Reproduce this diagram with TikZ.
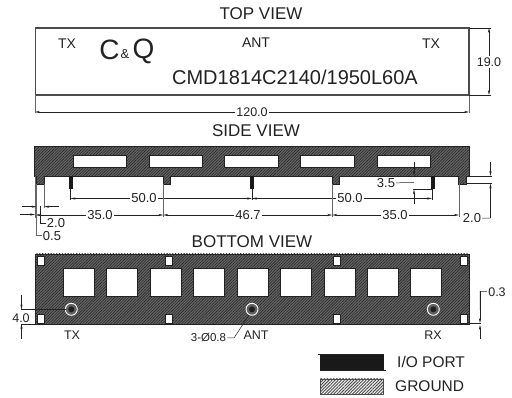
\documentclass[tikz,border=0pt]{standalone}
\usepackage{fontspec}
\setmainfont{Liberation Sans}
\usetikzlibrary{arrows.meta,patterns.meta}
\definecolor{ink}{HTML}{222222}
\tikzset{
  body/.style={draw=ink,line width=.8pt,preaction={fill=black!60},preaction={pattern={Lines[angle=45,distance=2pt,line width=.6pt]},pattern color=black!85}},
  legendhatch/.style={draw=black!70,line width=.5pt,preaction={fill=black!5},preaction={pattern={Lines[angle=45,distance=2.2pt,line width=.9pt]},pattern color=black!70}},
  hole/.style={draw=ink,line width=.8pt,fill=white},
  thin line/.style={draw=ink,line width=.5pt},
  ext/.style={draw=black!60,line width=.6pt},
  dimarrow/.style={draw=ink,line width=.5pt,-{Stealth[length=5pt,width=2.2pt]}},
  label/.style={inner sep=1pt,text=ink,font=\fontsize{12.5}{13}\selectfont},
  sidelabel/.style={inner sep=1pt,text=ink,font=\fontsize{13}{14}\selectfont},
  toplabel/.style={inner sep=1pt,text=ink,font=\fontsize{14}{15}\selectfont},
  ttl/.style={inner sep=0pt,text=ink,font=\fontsize{17}{18}\selectfont},
  pin/.style={draw=none,fill=black!90},
}
\begin{document}
\begin{tikzpicture}[x=1pt,y=-1pt]
\useasboundingbox (0,0) rectangle (512,398);
\fill[white] (0,0) rectangle (512,398);

% ---- TOP VIEW
\node[ttl] (ttop) at (261,14) {TOP VIEW};
\draw[draw=black!70,line width=1.4pt] (35.5,28) rectangle (469,95);
\node[toplabel] (tx1) at (67,44) {TX};
\node[toplabel] (ant1) at (256,43) {ANT};
\node[toplabel] (tx2) at (431,44) {TX};
\node[inner sep=0pt,text=ink,font=\fontsize{28}{29}\selectfont] (cc) at (109.5,50) {C};
\node[inner sep=0pt,text=ink,font=\fontsize{13}{14}\selectfont] (amp) at (125,54.5) {\&};
\node[inner sep=0pt,text=ink,font=\fontsize{28}{29}\selectfont] (qq) at (143.5,51) {Q};
\node[inner sep=0pt,text=ink,font=\fontsize{20}{21}\selectfont] (part) at (295,77.5) {CMD1814C2140/1950L60A};
\draw[ext] (35,95) -- (35,113);
\draw[ext] (469,95) -- (469,113);
\node[label] (d120) at (252,112) {120.0};
\draw[dimarrow] (d120) -- (35,112);
\draw[dimarrow] (d120) -- (469,112);
\draw[thin line] (469,28) -- (491,28);
\draw[thin line] (469,95) -- (491,95);
\node[label] (d19) at (489,62) {19.0};
\draw[dimarrow] (d19) -- (489,28);
\draw[dimarrow] (d19) -- (489,95);

% ---- SIDE VIEW
\node[ttl] (tside) at (256,130.5) {SIDE VIEW};
\draw[body] (34,146.5) -- (469,146.5) -- (469,176) -- (466.7,176) -- (466.7,184) -- (458.7,184) -- (458.7,176)
  -- (339.7,176) -- (339.7,184) -- (332.3,184) -- (332.3,176) -- (170.7,176) -- (170.7,184) -- (163.3,184) -- (163.3,176)
  -- (44.3,176) -- (44.3,184) -- (36.6,184) -- (36.6,176) -- (34,176) -- cycle;
\foreach \a/\b in {73/126,149/202,224/278,300/354,377/430}
  \draw[hole] (\a,155) rectangle (\b,167);
\fill[pin] (68.5,176) rectangle (72.7,189.5);
\fill[pin] (249.7,176) rectangle (254,189.5);
\fill[pin] (430.7,176) rectangle (434.5,189.5);
% 50.0 dims
\draw[thin line] (70.5,189) -- (70.5,200);
\draw[thin line] (252,189) -- (252,200);
\draw[thin line] (432,189) -- (432,200);
\node[sidelabel] (d50a) at (144,198.5) {50.0};
\draw[dimarrow] (d50a) -- (70.5,198.5);
\draw[dimarrow] (d50a) -- (252,198.5);
\node[sidelabel] (d50b) at (350,198.5) {50.0};
\draw[dimarrow] (d50b) -- (252,198.5);
\draw[dimarrow] (d50b) -- (432,198.5);
% 35 / 46.7 / 35 dims
\draw[ext] (163.3,184) -- (163.3,217);
\draw[ext] (332.3,184) -- (332.3,217);
\draw[ext,line width=.9pt] (459,184) -- (459,217);
\node[sidelabel] (d35a) at (100,215) {35.0};
\draw[dimarrow] (d35a) -- (163.3,215);
\draw[dimarrow] (d35a) -- (35.5,215);
\node[sidelabel] (d467) at (248,215) {46.7};
\draw[dimarrow] (d467) -- (163.3,215);
\draw[dimarrow] (d467) -- (332.3,215);
\node[sidelabel] (d35b) at (395,215) {35.0};
\draw[dimarrow] (d35b) -- (332.3,215);
\draw[dimarrow] (d35b) -- (459,215);
% left detail
\draw[ext] (35,176) -- (35,218);
\draw[ext] (36.6,184) -- (36.6,235) -- (42,235);
\draw[ext] (44.3,184) -- (44.3,208);
\draw[thin line] (40,206) -- (40,223) -- (46,223);
\draw[dimarrow] (22,206.7) -- (36.6,206.7);
\draw[dimarrow] (59,206.7) -- (44.3,206.7);
\draw[dimarrow] (20,214.5) -- (35,214.5);
\node[sidelabel,inner sep=0pt] (d20a) at (56,223.5) {2.0};
\node[sidelabel,inner sep=0pt] (d05) at (52,236) {0.5};
% 3.5
\node[sidelabel] (d35c) at (386,183) {3.5};
\draw[thin line] (d35c) -- (414,182.5);
\draw[dimarrow] (414,162) -- (414,176);
\draw[dimarrow] (414,204) -- (414,189.5);
\draw[thin line] (413,189.5) -- (432,189.5);
% right 2.0
\draw[thin line] (467,176) -- (492,176);
\draw[thin line] (467,183.5) -- (492,183.5);
\draw[dimarrow] (490.5,162) -- (490.5,176);
\node[sidelabel] (d20b) at (472,218.5) {2.0};
\draw[thin line] (d20b) -- (490.5,218) -- (490.5,195);
\draw[dimarrow] (490.5,218) -- (490.5,183.5);

% ---- BOTTOM VIEW
\node[ttl] (tbot) at (252,242) {BOTTOM VIEW};
\draw[body] (35.5,254) rectangle (469,324);
\foreach \a in {63.3,106.7,150,193.7,237,280.3,324,367.3,410.7}
  \draw[hole] (\a,268) rectangle ++(31,28);
\foreach \a in {37.7,165,333.7,460}{
  \draw[hole] (\a,256.5) rectangle ++(7,8.5);
  \draw[hole] (\a,314.5) rectangle ++(7,8.5);
}
\foreach \a in {71.3,252,433.3}{
  \draw[draw=white,line width=.9pt,fill=black!62] (\a,309.3) circle (6);
  \fill[black!88] (\a,309.3) circle (3);
}
\node[label] (btx) at (72,335) {TX};
\node[label] (bant) at (256,335) {ANT};
\node[label] (brx) at (433,335) {RX};
% 4.0
\draw[thin line] (21,309.5) -- (66,309.5);
\draw[thin line] (21,324) -- (36,324);
\node[label] (d40) at (21,318) {4.0};
\draw[dimarrow] (21.5,295) -- (21.5,309.5);
\draw[dimarrow] (21.5,339) -- (21.5,324);
% 3-O0.8
\node[label,font=\fontsize{11.5}{12}\selectfont] (dia) at (208.5,338) {3-Ø0.8};
\draw[thin line] (dia) -- (234,338) -- (249,315);
% 0.3
\node[label] (d03) at (497,292) {0.3};
\draw[thin line] (d03) -- (480,291.5) -- (480,310);
\draw[dimarrow] (480,291.5) -- (480,323);
\draw[dimarrow] (480,339) -- (480,325);
\draw[draw=ink,line width=1pt] (469,324) -- (481,324);

% ---- LEGEND
\fill[black!90] (320,354.5) rectangle (383.7,370.5);
\draw[thin line] (318,354) -- (383.7,354);
\draw[thin line] (320,370.7) -- (386,370.7);
\node[inner sep=0pt,text=ink,font=\fontsize{15.5}{16}\selectfont,anchor=west] (lio) at (397,362) {I/O PORT};
\draw[legendhatch] (320,379) rectangle (383.7,394.5);
\node[inner sep=0pt,text=ink,font=\fontsize{15.5}{16}\selectfont,anchor=west] (lgnd) at (395,386) {GROUND};
\end{tikzpicture}
\end{document}
